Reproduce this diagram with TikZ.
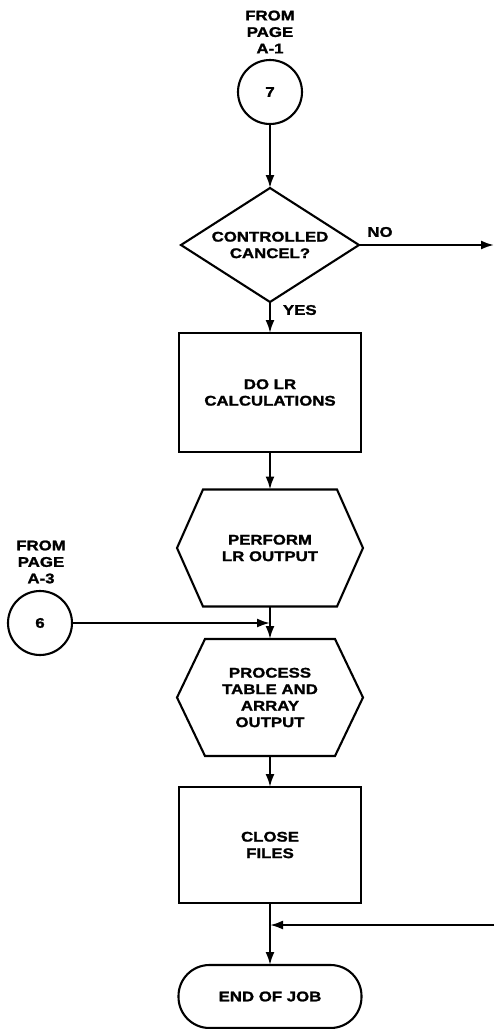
\documentclass[tikz,border=0pt]{standalone}
\usepackage{fontspec}
\newfontfamily\flowfont{Liberation Sans}[FakeStretch=1.2,BoldFeatures={FakeBold=1.5}]
\usetikzlibrary{arrows.meta}
\begin{document}
\begin{tikzpicture}[x=1pt,y=-1pt,line width=2.1pt,
  every node/.style={font=\flowfont\bfseries\fontsize{14}{16.5}\selectfont,align=center,inner sep=0pt,outer sep=0pt},
  procbox/.style={draw,rectangle,minimum width=182pt,minimum height=#1},
  hexbox/.style={rectangle,minimum width=186pt,minimum height=117pt},
  decbox/.style={rectangle,minimum width=178pt,minimum height=114pt},
  conn/.style={draw,circle,minimum size=64pt},
  term/.style={draw,rectangle,rounded corners=31pt,minimum width=183pt,minimum height=63pt},
  arr/.style={-{Latex[length=13pt,width=9pt]}}]
\useasboundingbox (0,0) rectangle (495,1029);
% connectors (off-page) and labels
\node (lab7) at (270,32) {FROM\\PAGE\\A-1};
\node[conn] (c7) at (270,92) {7};
\node (lab6) at (41,562) {FROM\\PAGE\\A-3};
\node[conn] (c6) at (40,623) {6};
% decision
\node[decbox] (dec) at (270,245) {CONTROLLED\\CANCEL?};
\draw (dec.north) -- (dec.east) -- (dec.south) -- (dec.west) -- cycle;
\node (no) at (380,232) {NO};
\node[anchor=west] (yes) at (283,310) {YES};
\coordinate (noend) at (494,245);
% process boxes
\node[procbox=119pt] (dolr) at (270,392.5) {DO LR\\CALCULATIONS};
\node[hexbox] (perf) at (270,548) {PERFORM\\LR OUTPUT};
\draw ([xshift=26pt]perf.north west) -- ([xshift=-26pt]perf.north east) -- (perf.east)
  -- ([xshift=-26pt]perf.south east) -- ([xshift=26pt]perf.south west) -- (perf.west) -- cycle;
\node[hexbox] (proc) at (270,697.5) {PROCESS\\TABLE AND\\ARRAY\\OUTPUT};
\draw ([xshift=28pt]proc.north west) -- ([xshift=-28pt]proc.north east) -- (proc.east)
  -- ([xshift=-28pt]proc.south east) -- ([xshift=28pt]proc.south west) -- (proc.west) -- cycle;
\node[procbox=116pt] (close) at (270,845) {CLOSE\\FILES};
\node[term] (end) at (270,996.5) {END OF JOB};
\coordinate (mergein) at (494,925);
% flow lines
\draw[arr] (c7) -- (dec.north);
\draw[arr] (dec.east) -- (noend);
\draw[arr] (dec.south) -- (dolr.north);
\draw[arr] (dolr.south) -- (perf.north);
\draw[arr] (perf.south) -- (proc.north);
\draw[arr] (c6) -- (c6 -| proc.north);
\draw[arr] (proc.south) -- (close.north);
\draw[arr] (close.south) -- (end.north);
\draw[arr] (mergein) -- (mergein -| close.south);
\end{tikzpicture}
\end{document}
